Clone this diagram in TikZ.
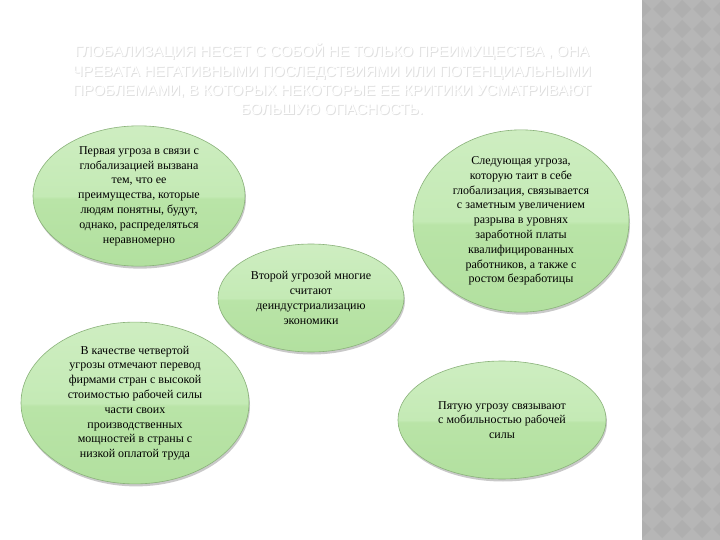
\documentclass[tikz,border=0pt]{standalone}
\usepackage{fontspec}
\setmainfont{Liberation Serif}
\newfontfamily\titlefont{Liberation Sans}
\usetikzlibrary{shapes.geometric,shadows}
\definecolor{gtop}{HTML}{D8F1CD}
\definecolor{gmid}{HTML}{C4EAB5}
\definecolor{gmidb}{HTML}{B9E4A7}
\definecolor{gbot}{HTML}{ABDC97}
\definecolor{gedge}{HTML}{8AB27A}
\definecolor{strip}{HTML}{B6B6B6}
\definecolor{stripd}{HTML}{AFAFAF}
\pgfdeclareverticalshading{gloss}{100bp}{color(0bp)=(gbot); color(49bp)=(gmidb); color(50bp)=(gmid); color(100bp)=(gtop)}
\begin{document}
\begin{tikzpicture}[x=1pt,y=-1pt,
  blob/.style={ellipse, draw=gedge, line width=0.6pt, shading=gloss, inner sep=0pt,
    drop shadow={shadow xshift=1pt, shadow yshift=-2.5pt, opacity=0.35, fill=black!60},
    align=center, font=\fontsize{12}{14.8}\selectfont, text=black},
  ttl/.style={font=\titlefont\fontsize{15}{19.3}\selectfont, align=center}]
\useasboundingbox (0,0) rectangle (720,540);
\fill[white] (0,0) rectangle (720,540);
% right strip
\fill[strip] (642,0) rectangle (720,540);
\begin{scope}
\clip (642,0) rectangle (720,540);
\foreach \i in {0,...,4}{
  \foreach \j in {0,...,27}{
    \fill[stripd] (642+\i*20,\j*20) -- ++(9,9) -- ++(-9,9) -- ++(-9,-9) -- cycle;
  }
}
\end{scope}
% title
\node[ttl, text=black!12] (titleshadow) at (333,80) {ГЛОБАЛИЗАЦИЯ НЕСЕТ С СОБОЙ НЕ ТОЛЬКО ПРЕИМУЩЕСТВА , ОНА\\ЧРЕВАТА НЕГАТИВНЫМИ ПОСЛЕДСТВИЯМИ ИЛИ ПОТЕНЦИАЛЬНЫМИ\\ПРОБЛЕМАМИ, В КОТОРЫХ НЕКОТОРЫЕ ЕЕ КРИТИКИ УСМАТРИВАЮТ\\БОЛЬШУЮ ОПАСНОСТЬ.};
\node[ttl, text=white] (title) at (332,79) {ГЛОБАЛИЗАЦИЯ НЕСЕТ С СОБОЙ НЕ ТОЛЬКО ПРЕИМУЩЕСТВА , ОНА\\ЧРЕВАТА НЕГАТИВНЫМИ ПОСЛЕДСТВИЯМИ ИЛИ ПОТЕНЦИАЛЬНЫМИ\\ПРОБЛЕМАМИ, В КОТОРЫХ НЕКОТОРЫЕ ЕЕ КРИТИКИ УСМАТРИВАЮТ\\БОЛЬШУЮ ОПАСНОСТЬ.};
% ellipses
\node[blob, minimum width=212pt, minimum height=124pt] (first) at (139,196)
  {Первая угроза в связи с\\глобализацией вызвана\\тем, что ее\\преимущества, которые\\людям понятны, будут,\\однако, распределяться\\неравномерно};
\node[blob, minimum width=216pt, minimum height=172pt] (next) at (521,221)
  {Следующая угроза,\\которую таит в себе\\глобализация, связывается\\с заметным увеличением\\разрыва в уровнях\\заработной платы\\квалифицированных\\работников, а также с\\ростом безработицы};
\node[blob, minimum width=186pt, minimum height=108pt] (second) at (311,298)
  {Второй угрозой многие\\считают\\деиндустриализацию\\экономики};
\node[blob, minimum width=228pt, minimum height=140pt] (fourth) at (135,403)
  {В качестве четвертой\\угрозы отмечают перевод\\фирмами стран с высокой\\стоимостью рабочей силы\\части своих\\производственных\\мощностей в страны с\\низкой оплатой труда};
\node[blob, minimum width=208pt, minimum height=118pt] (fifth) at (502,420)
  {Пятую угрозу связывают\\с мобильностью рабочей\\силы};
\end{tikzpicture}
\end{document}
